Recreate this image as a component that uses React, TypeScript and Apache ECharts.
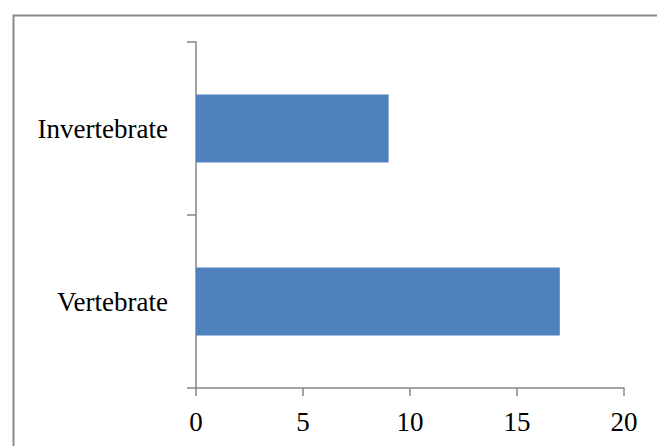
import React, { useEffect, useRef } from "react";
import * as echarts from "echarts";

const categories = ["Vertebrate", "Invertebrate"];
const values = [17, 9];
const xTicks = { min: 0, max: 20, interval: 5 };

export default function App() {
  const ref = useRef<HTMLDivElement>(null);
  useEffect(() => {
    if (!ref.current) return;
    const chart = echarts.init(ref.current, null, { renderer: "svg" });
    const font = "Liberation Serif";
    chart.setOption({
      animation: false,
      backgroundColor: "#ffffff",
      grid: { left: 196, right: 33, top: 42, bottom: 58, containLabel: false },
      graphic: [
        {
          type: "rect",
          left: 11,
          top: 13,
          shape: { width: 700, height: 500 },
          style: { fill: "none", stroke: "#8a8a8a", lineWidth: 2 },
          silent: true,
        },
      ],
      xAxis: {
        type: "value",
        min: xTicks.min,
        max: xTicks.max,
        interval: xTicks.interval,
        splitLine: { show: false },
        axisLine: { show: true, lineStyle: { color: "#868686", width: 1.5 } },
        axisTick: { show: true, length: 8, lineStyle: { color: "#868686", width: 1.5 } },
        axisLabel: { color: "#000", fontFamily: font, fontSize: 27, margin: 20 },
      },
      yAxis: {
        type: "category",
        data: categories,
        axisLine: { show: true, lineStyle: { color: "#868686", width: 1.5 } },
        axisTick: { show: true, length: 9, lineStyle: { color: "#868686", width: 1.5 } },
        axisLabel: { color: "#000", fontFamily: font, fontSize: 27, margin: 28 },
      },
      series: [
        {
          type: "bar",
          data: values,
          barWidth: 68,
          itemStyle: { color: "#4F81BD" },
        },
      ],
    });
    return () => chart.dispose();
  }, []);
  return (
    <div
      ref={ref}
      style={{ position: "absolute", left: 0, top: 0, width: 657, height: 446 }}
    />
  );
}
